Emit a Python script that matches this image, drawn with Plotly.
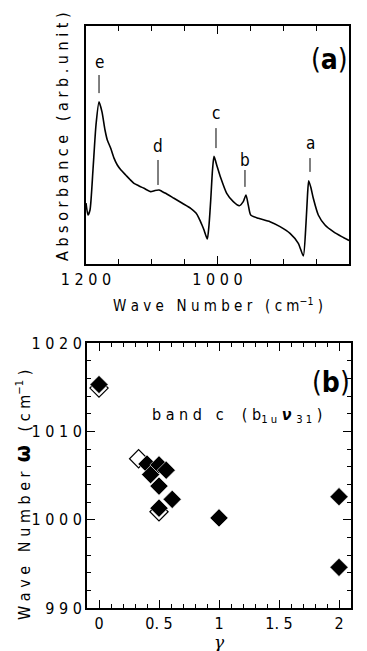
import plotly.graph_objects as go

# ---------------- data ----------------
# panel (a): IR absorbance spectrum (arbitrary units)
wavenumber = [1200.0, 1197.0, 1193.9, 1189.4, 1184.8, 1180.2, 1175.7, 1171.1, 1167.6, 1162.4,
              1157.4, 1152.4, 1146.8, 1139.6, 1133.1, 1127.0, 1119.4, 1111.8, 1101.6, 1095.1,
              1089.0, 1084.4, 1078.8, 1066.2, 1053.5, 1040.8, 1032.7, 1028.1, 1023.6, 1020.5,
              1015.5, 1012.9, 1010.3, 1007.6, 1005.3, 1000.8, 995.7, 986.0, 976.0, 966.8,
              960.8, 956.7, 953.2, 949.5, 937.9, 920.2, 904.9, 889.7, 877.1, 869.5,
              865.4, 863.1, 861.3, 857.8, 854.3, 846.7, 836.5, 823.9, 811.1, 800.0]
absorbance = [0.256, 0.206, 0.227, 0.395, 0.584, 0.681, 0.639, 0.563, 0.521, 0.486,
              0.445, 0.416, 0.395, 0.374, 0.355, 0.339, 0.328, 0.318, 0.304, 0.309,
              0.311, 0.305, 0.297, 0.276, 0.255, 0.234, 0.214, 0.192, 0.164, 0.143,
              0.105, 0.164, 0.269, 0.395, 0.452, 0.412, 0.367, 0.297, 0.262, 0.245,
              0.262, 0.290, 0.248, 0.206, 0.192, 0.178, 0.157, 0.129, 0.087, 0.034,
              0.171, 0.290, 0.350, 0.319, 0.276, 0.206, 0.164, 0.136, 0.115, 0.099]

band_names = ["e", "d", "c", "b", "a"]
band_pos = [1180.2, 1090.5, 1002.3, 958.2, 859.3]
band_text_y = [0.849, 0.496, 0.634, 0.437, 0.508]
band_line_top = [0.794, 0.437, 0.571, 0.395, 0.445]
band_line_bot = [0.718, 0.332, 0.487, 0.324, 0.387]

a_tickvals = [1200, 1000, 800]
a_ticktext = ["1 2 0 0", "1 0 0 0", "8 0 0"]

# panel (b): band c frequency vs gamma
filled_gamma = [0.0, 0.40, 0.43, 0.50, 0.56, 0.50, 0.61, 0.50, 1.0, 2.0, 2.0]
filled_omega = [1015.3, 1006.3, 1005.1, 1006.2, 1005.6, 1003.8, 1002.3, 1001.3, 1000.2, 1002.6, 994.6]
open_gamma = [0.0, 0.33, 0.50]
open_omega = [1014.9, 1006.9, 1000.9]

b_xtickvals = [0, 0.5, 1, 1.5, 2]
b_xticktext = ["0", "0. 5", "1", "1. 5", "2"]
b_ytickvals = [990, 1000, 1010, 1020]
b_yticktext = ["9 9 0", "1 0 0 0", "1 0 1 0", "1 0 2 0"]

# ---------------- figure ----------------
# the page body keeps its default 8px margin, so the figure is 8px smaller and
# every screen position is shifted by that offset
OFF = 8
W, H = 367 - OFF, 651 - OFF
FONT = "Liberation Sans Narrow, DejaVu Sans Condensed, Arial Narrow, sans-serif"

def fx(px):
    return (px - OFF) / W

def fy(py):
    return 1 - (py - OFF) / H

A_X = (86, 349)
A_Y = (264, 26)
B_X = (87, 351)
B_Y = (608, 343)

fig = go.Figure()

fig.add_trace(go.Scatter(x=wavenumber, y=absorbance, mode="lines",
                         line=dict(color="black", width=1.6, shape="spline", smoothing=0.6),
                         xaxis="x", yaxis="y", showlegend=False, hoverinfo="skip"))

# band marker lines
for i in range(len(band_names)):
    fig.add_shape(type="line", xref="x", yref="y",
                  x0=band_pos[i], x1=band_pos[i], y0=band_line_bot[i], y1=band_line_top[i],
                  line=dict(color="black", width=1))
    fig.add_annotation(x=band_pos[i], y=band_text_y[i], xref="x", yref="y",
                       text=band_names[i], showarrow=False,
                       xanchor="center", yanchor="middle",
                       font=dict(family=FONT, size=17, color="black"))

fig.add_trace(go.Scatter(x=open_gamma, y=open_omega, mode="markers",
                         marker=dict(symbol="diamond", size=14, color="white",
                                     line=dict(color="black", width=1.2)),
                         xaxis="x2", yaxis="y2", showlegend=False))
fig.add_trace(go.Scatter(x=filled_gamma, y=filled_omega, mode="markers",
                         marker=dict(symbol="diamond", size=14, color="black",
                                     line=dict(color="white", width=0.6)),
                         xaxis="x2", yaxis="y2", showlegend=False))

axis_common = dict(showline=True, linecolor="black", linewidth=2, mirror="ticks",
                   showgrid=False, zeroline=False, tickcolor="black", automargin=False,
                   tickfont=dict(family=FONT, size=16, color="black"))

fig.update_layout(
    template="none",
    width=W, height=H,
    margin=dict(l=0, r=0, t=0, b=0),
    paper_bgcolor="white", plot_bgcolor="white",
    showlegend=False,
    xaxis=dict(domain=[fx(A_X[0]), fx(A_X[1])], range=[1200, 800], anchor="y", ticks="inside",
               tickvals=a_tickvals, ticktext=a_ticktext, ticklen=8, tickwidth=1,
               minor=dict(dtick=50, tick0=800, ticklen=5, ticks="inside", tickcolor="black"),
               **axis_common),
    yaxis=dict(domain=[fy(A_Y[0]), fy(A_Y[1])], range=[0, 1], anchor="x",
               showticklabels=False, ticks="", **axis_common),
    xaxis2=dict(domain=[fx(B_X[0]), fx(B_X[1])], range=[-0.1, 2.1], anchor="y2", ticks="inside",
                tickvals=b_xtickvals, ticktext=b_xticktext, ticklen=8, tickwidth=1,
                minor=dict(dtick=0.1, tick0=0, ticklen=4, ticks="inside", tickcolor="black"),
                **axis_common),
    yaxis2=dict(domain=[fy(B_Y[0]), fy(B_Y[1])], range=[990, 1020], anchor="x2", ticks="inside",
                tickvals=b_ytickvals, ticktext=b_yticktext, ticklen=8, tickwidth=1,
                minor=dict(dtick=2, tick0=990, ticklen=4, ticks="inside", tickcolor="black"),
                **axis_common),
)

def label(px, py, text, size, angle=0, family=FONT):
    fig.add_annotation(x=fx(px), y=fy(py), xref="paper", yref="paper", showarrow=False,
                       xanchor="center", yanchor="middle", textangle=angle, text=text,
                       font=dict(family=family, size=size, color="black"))

# axis titles and labels
label(218, 305, "W a v e   N u m b e r   ( c m<sup>−1</sup> )", 15)
label(62, 137, "A b s o r b a n c e   ( a r b . u n i t )", 16, angle=-90)
label(329, 60, "(<b>a</b>)", 28)
label(331, 382, "(<b>b</b>)", 28)
label(237, 415, "b a n d   c    ( b<sub>1 u</sub> <b><i>ν</i></b> <sub>3 1</sub> )", 16)
label(22, 495, "W a v e   N u m b e r  <span style='font-size:22px'><b>ω</b></span>   ( c m<sup>−1</sup> )",
      16, angle=-90)
label(219, 642, "<i>γ</i>", 17, family="DejaVu Serif, serif")

fig.write_html("out.html", config={"displayModeBar": False})
